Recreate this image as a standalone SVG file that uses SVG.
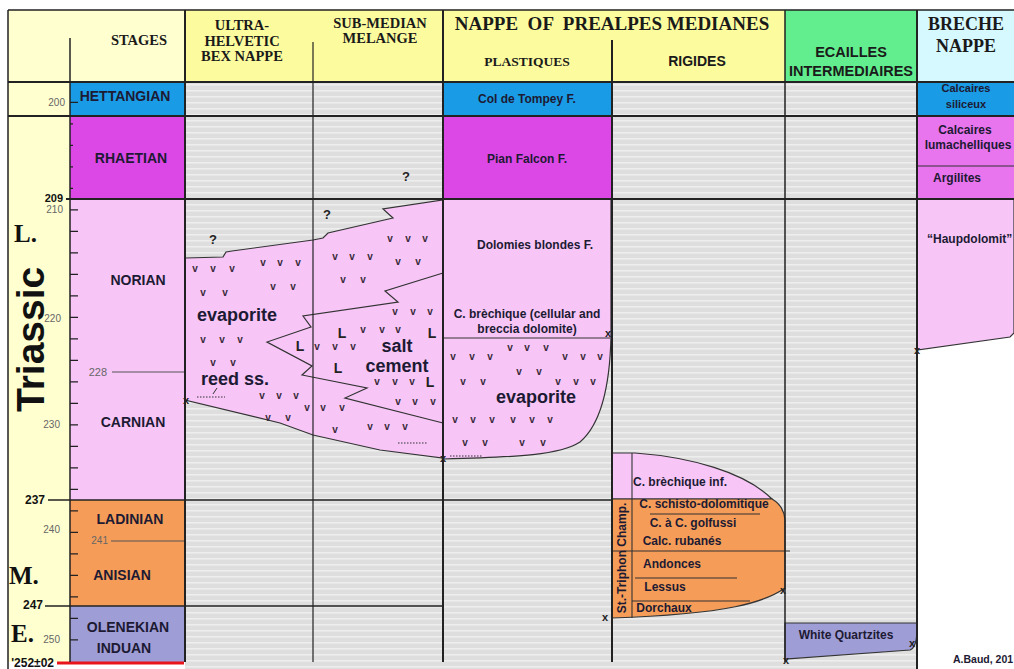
<svg xmlns="http://www.w3.org/2000/svg" width="1014" height="669" viewBox="0 0 1014 669">
<defs>
<pattern id="stripes" width="10" height="6" patternUnits="userSpaceOnUse">
<rect width="10" height="6" fill="#dedede"/>
<rect width="10" height="1.6" fill="#eeeeee"/>
</pattern>
<style>
.s{font-family:"Liberation Sans",Arial,sans-serif;font-weight:bold;fill:#1d1a33;text-anchor:middle}
.st{font-size:14px}
.f{font-size:12px}
.h{font-family:"Liberation Serif","Times New Roman",serif;font-weight:bold;fill:#1a1a1a;text-anchor:middle;font-size:14.5px}
.hs{font-family:"Liberation Sans",Arial,sans-serif;font-weight:bold;fill:#1a1a1a;text-anchor:middle;font-size:14.5px}
.big{font-size:18px}
.v{font-family:"Liberation Sans",Arial,sans-serif;font-weight:bold;font-size:10px;fill:#3a2a3a;text-anchor:middle}
.L{font-family:"Liberation Sans",Arial,sans-serif;font-weight:bold;font-size:14px;fill:#222;text-anchor:middle}
.x{font-family:"Liberation Sans",Arial,sans-serif;font-weight:bold;font-size:11px;fill:#222;text-anchor:middle}
.n{font-family:"Liberation Sans",Arial,sans-serif;font-size:10px;fill:#666;text-anchor:end}
.nb{font-family:"Liberation Sans",Arial,sans-serif;font-weight:bold;font-size:11px;fill:#111;text-anchor:end}
.ep{font-family:"Liberation Serif","Times New Roman",serif;font-weight:bold;font-size:25px;fill:#111}
.unit{stroke:#333;stroke-width:1.2}
.g{stroke:#222;fill:none}
.hettang{fill:#1a9be6}
.rhaet{fill:#dc48e6}
.nor{fill:#f7c6f7}
.lad{fill:#f59d58}
.olen{fill:#9f9dd6}
</style>
</defs>
<rect width="1014" height="669" fill="#ffffff"/>

<g id="background">
<rect x="8" y="10" width="177" height="652" fill="#ffffd0"/>
<rect x="185" y="82" width="732" height="587" fill="url(#stripes)"/>
</g>

<g id="header">
<rect x="185" y="10" width="258" height="72" fill="#fcfc9e"/>
<rect x="443" y="10" width="342" height="72" fill="#fcfc9e"/>
<rect x="785" y="10" width="132" height="72" fill="#62ee8e"/>
<rect x="917" y="10" width="97" height="72" fill="#d6f9ff"/>
<text class="h" x="139" y="45">STAGES</text>
<text class="h" x="242" y="30">ULTRA-</text>
<text class="h" x="242" y="46">HELVETIC</text>
<text class="h" x="242" y="61">BEX NAPPE</text>
<text class="h" x="380" y="28">SUB-MEDIAN</text>
<text class="h" x="380" y="43">MELANGE</text>
<text class="h" x="612" y="30" style="font-size:19px" xml:space="preserve">NAPPE  OF  PREALPES MEDIANES</text>
<text class="h" x="527" y="66" style="font-size:13.5px">PLASTIQUES</text>
<text class="hs" x="697" y="66" style="font-size:14px">RIGIDES</text>
<text class="hs" x="851" y="57">ECAILLES</text>
<text class="hs" x="851" y="76">INTERMEDIAIRES</text>
<text class="h" x="966" y="30" style="font-size:18px">BRECHE</text>
<text class="h" x="966" y="52" style="font-size:18px">NAPPE</text>
</g>

<g id="stages">
<rect class="hettang" x="70" y="82" width="115" height="34"/>
<rect class="rhaet" x="70" y="116" width="115" height="83"/>
<rect class="nor" x="70" y="199" width="115" height="301"/>
<rect class="lad" x="70" y="500" width="115" height="106"/>
<rect class="olen" x="70" y="606" width="115" height="56"/>
<text class="s st" x="125" y="101">HETTANGIAN</text>
<text class="s st" x="131" y="163">RHAETIAN</text>
<text class="s st" x="138" y="285">NORIAN</text>
<text class="s st" x="133" y="427">CARNIAN</text>
<text class="s st" x="130" y="524">LADINIAN</text>
<text class="s st" x="122" y="580">ANISIAN</text>
<text class="s st" x="128" y="632">OLENEKIAN</text>
<text class="s st" x="124" y="653">INDUAN</text>
</g>

<g id="timescale">
<path class="g" stroke-width="1.2" d="M70,102.3h8 M70,123.8h3 M70,145.3h3 M70,166.8h3 M70,188.3h3 M70,209.8h8 M70,231.3h8 M70,252.8h8 M70,274.3h8 M70,295.8h8 M70,317.3h8 M70,338.8h8 M70,360.3h8 M70,381.8h8 M70,403.3h8 M70,424.8h8 M70,446.3h8 M70,467.8h8 M70,489.3h8 M70,510.8h8 M70,532.3h8 M70,553.8h8 M70,575.3h8 M70,596.8h8 M70,618.3h8 M70,639.8h8"/>
<text class="n" x="65" y="106">200</text>
<text class="nb" x="63" y="202">209</text>
<text class="n" x="63" y="213">210</text>
<text class="n" x="61" y="322">220</text>
<text class="n" x="107" y="376" style="font-size:11px">228</text>
<line x1="112" y1="372" x2="184" y2="372" stroke="#555" stroke-width="1"/>
<text class="n" x="60" y="428">230</text>
<text class="nb" x="45" y="504" style="font-size:12px">237</text>
<text class="n" x="60" y="533">240</text>
<text class="n" x="108" y="544">241</text>
<line x1="111" y1="541" x2="184" y2="541" stroke="#555" stroke-width="1"/>
<text class="nb" x="43" y="609" style="font-size:12px">247</text>
<text class="n" x="60" y="643">250</text>
<text class="nb" x="54" y="667" style="font-size:12px">'252±02</text>
<line x1="57" y1="663" x2="184" y2="663" stroke="#e8141c" stroke-width="3"/>
<text class="ep" x="14" y="242">L.</text>
<text class="ep" x="9" y="584">M.</text>
<text class="ep" x="11" y="642">E.</text>
<text transform="translate(44,412) rotate(-90)" style="font-family:'Liberation Sans',Arial,sans-serif;font-weight:bold;font-size:39px;fill:#111">Triassic</text>
</g>

<g id="plastiques">
<rect class="hettang" x="443" y="82" width="169" height="34"/>
<rect class="rhaet" x="443" y="116" width="169" height="83"/>
<path class="nor unit" d="M443,199 H611 V335 C610,390 600,425 580,442 C560,455 520,457 443,459 Z"/>
<line x1="443" y1="338" x2="610" y2="338" stroke="#333" stroke-width="1.2"/>
<text class="s f" x="527" y="103">Col de Tompey F.</text>
<text class="s f" x="527" y="163">Pian Falcon F.</text>
<text class="s f" x="535" y="249">Dolomies blondes F.</text>
<text class="s f" x="527" y="318">C. brèchique (cellular and</text>
<text class="s f" x="527" y="333">breccia dolomite)</text>
<text class="s big" x="536" y="403">evaporite</text>
<line x1="450" y1="456" x2="482" y2="456" stroke="#333" stroke-width="1.2" stroke-dasharray="1.5 1.5"/>
<g>
<text class="v" x="510" y="351">v</text><text class="v" x="527" y="351">v</text><text class="v" x="546" y="351">v</text>
<text class="v" x="453" y="360">v</text><text class="v" x="472" y="360">v</text><text class="v" x="490" y="360">v</text><text class="v" x="565" y="360">v</text><text class="v" x="583" y="360">v</text><text class="v" x="600" y="360">v</text>
<text class="v" x="519" y="375">v</text><text class="v" x="539" y="375">v</text>
<text class="v" x="463" y="385">v</text><text class="v" x="483" y="385">v</text><text class="v" x="558" y="385">v</text><text class="v" x="576" y="385">v</text><text class="v" x="593" y="385">v</text>
<text class="v" x="455" y="423">v</text><text class="v" x="473" y="423">v</text><text class="v" x="492" y="423">v</text><text class="v" x="513" y="423">v</text><text class="v" x="532" y="423">v</text><text class="v" x="550" y="423">v</text>
<text class="v" x="465" y="446">v</text><text class="v" x="485" y="446">v</text><text class="v" x="522" y="446">v</text><text class="v" x="543" y="446">v</text>
</g>
</g>

<g id="bex-submedian">
<path class="nor unit" d="M185,258 L223,257 L226,252 L232,251 L313,240 L323,238 L328,233 L393,218 L383,209 L443,200 L443,458 L380,450 L313,435 L280,423 L185,400 Z"/>
<polyline fill="none" stroke="#333" stroke-width="1.2" points="443,273 385,291 398,302 303,316 311,327 267,342 312,366 302,375 367,388 345,398 443,423"/>
<text class="L" x="342" y="338">L</text>
<text class="L" x="300" y="351">L</text>
<text class="L" x="338" y="373">L</text>
<text class="L" x="432" y="338">L</text>
<text class="L" x="430" y="387">L</text>
<text class="s big" x="237" y="321">evaporite</text>
<text class="s big" x="397" y="352">salt</text>
<text class="s big" x="397" y="372">cement</text>
<text class="s big" x="235" y="385">reed ss.</text>
<line x1="217" y1="388" x2="213" y2="394" stroke="#333" stroke-width="1"/>
<line x1="197" y1="397" x2="225" y2="397" stroke="#333" stroke-width="1.2" stroke-dasharray="1.5 1.5"/>
<line x1="398" y1="443" x2="427" y2="443" stroke="#333" stroke-width="1.2" stroke-dasharray="1.5 1.5"/>
<text class="L" x="213" y="244" style="font-size:13px">?</text>
<text class="L" x="327" y="219" style="font-size:13px">?</text>
<text class="L" x="406" y="181" style="font-size:13px">?</text>
<g>
<text class="v" x="195" y="272">v</text><text class="v" x="213" y="272">v</text><text class="v" x="232" y="272">v</text>
<text class="v" x="263" y="266">v</text><text class="v" x="280" y="266">v</text><text class="v" x="298" y="266">v</text>
<text class="v" x="203" y="296">v</text><text class="v" x="225" y="296">v</text>
<text class="v" x="273" y="290">v</text><text class="v" x="293" y="290">v</text>
<text class="v" x="203" y="343">v</text><text class="v" x="222" y="343">v</text><text class="v" x="240" y="343">v</text>
<text class="v" x="213" y="366">v</text><text class="v" x="233" y="366">v</text>
<text class="v" x="262" y="399">v</text><text class="v" x="279" y="399">v</text><text class="v" x="296" y="399">v</text>
<text class="v" x="307" y="411">v</text><text class="v" x="323" y="411">v</text><text class="v" x="342" y="411">v</text>
<text class="v" x="268" y="421">v</text><text class="v" x="288" y="421">v</text>
<text class="v" x="390" y="242">v</text><text class="v" x="408" y="242">v</text><text class="v" x="425" y="242">v</text>
<text class="v" x="335" y="260">v</text><text class="v" x="352" y="260">v</text><text class="v" x="370" y="260">v</text>
<text class="v" x="398" y="265">v</text><text class="v" x="418" y="265">v</text>
<text class="v" x="343" y="283">v</text><text class="v" x="363" y="283">v</text>
<text class="v" x="395" y="315">v</text><text class="v" x="413" y="315">v</text><text class="v" x="430" y="315">v</text>
<text class="v" x="363" y="333">v</text><text class="v" x="382" y="333">v</text><text class="v" x="398" y="333">v</text>
<text class="v" x="317" y="350">v</text><text class="v" x="335" y="350">v</text><text class="v" x="353" y="350">v</text>
<text class="v" x="377" y="385">v</text><text class="v" x="395" y="385">v</text><text class="v" x="412" y="385">v</text>
<text class="v" x="398" y="405">v</text><text class="v" x="415" y="405">v</text><text class="v" x="433" y="405">v</text>
<text class="v" x="370" y="430">v</text><text class="v" x="387" y="430">v</text><text class="v" x="405" y="430">v</text>
<text class="v" x="335" y="433">v</text>
</g>
</g>

<g id="rigides">
<path class="nor unit" d="M612,453 H635 C690,457 745,472 772,499 H612 Z"/>
<path class="lad unit" d="M612,499 H772 Q784,506 785,520 V588 C765,602 730,614 612,618 Z"/>
<path fill="none" stroke="#333" stroke-width="1.1" d="M632,453 V618 M650,514 H760 M612,551 H790 M635,578 H737 M632,601 H750"/>
<text class="s f" x="680" y="486">C. brèchique inf.</text>
<text class="s f" x="704" y="508">C. schisto-dolomitique</text>
<text class="s f" x="693" y="527">C. à C. golfussi</text>
<text class="s f" x="682" y="545">Calc. rubanés</text>
<text class="s f" x="672" y="568">Andonces</text>
<text class="s f" x="665" y="591">Lessus</text>
<text class="s f" x="664" y="612">Dorchaux</text>
<text class="s f" transform="translate(626,558) rotate(-90)">St.-Triphon Champ.</text>
</g>

<g id="ecailles">
<path class="olen unit" d="M785,623 H917 V633 Q916,648 910,650 L785,659 Z"/>
<text class="s f" x="846" y="639">White Quartzites</text>
</g>

<g id="breche">
<rect class="hettang" x="917" y="82" width="97" height="34"/>
<rect x="917" y="116" width="97" height="83" fill="#e874ee"/>
<line x1="917" y1="166" x2="1014" y2="166" stroke="#333" stroke-width="1"/>
<path class="nor unit" d="M917,199 H1014 V333 L1010,337 L917,350 Z"/>
<text class="s" x="966" y="92" style="font-size:11px">Calcaires</text>
<text class="s" x="966" y="108" style="font-size:11px">siliceux</text>
<text class="s f" x="965" y="134">Calcaires</text>
<text class="s f" x="968" y="149">lumachelliques</text>
<text class="s f" x="957" y="182">Argilites</text>
<text class="s f" x="927" y="243" style="text-anchor:start">“Haupdolomit”</text>
<text class="s" x="953" y="663" style="font-size:10.5px;text-anchor:start">A.Baud, 201</text>
</g>

<g id="grid">
<path class="g" stroke-width="2" d="M8,82 H1014 M8,116 H1014 M66,199 H1014"/>
<path class="g" stroke-width="1.6" d="M48,500 H612 M45,606 H443"/>
<path class="g" stroke="#666" stroke-width="1.5" d="M8,10 H1014 M8,10 V669"/>
<path class="g" stroke-width="1.5" d="M70,38 V662"/>
<path class="g" stroke-width="2" d="M185,10 V662 M443,10 V662 M612,40 V662 M917,10 V669"/>
<path class="g" stroke-width="1.2" d="M313,42 V662"/>
<path class="g" stroke="#444" stroke-width="1.5" d="M785,10 V662"/>
</g>

<g id="markers">
<text class="x" x="186" y="404">x</text>
<text class="x" x="443" y="462">x</text>
<text class="x" x="608" y="337">x</text>
<text class="x" x="605" y="621">x</text>
<text class="x" x="783" y="594">x</text>
<text class="x" x="786" y="664">x</text>
<text class="x" x="912" y="647">x</text>
<text class="x" x="917" y="354">x</text>
</g>
</svg>
